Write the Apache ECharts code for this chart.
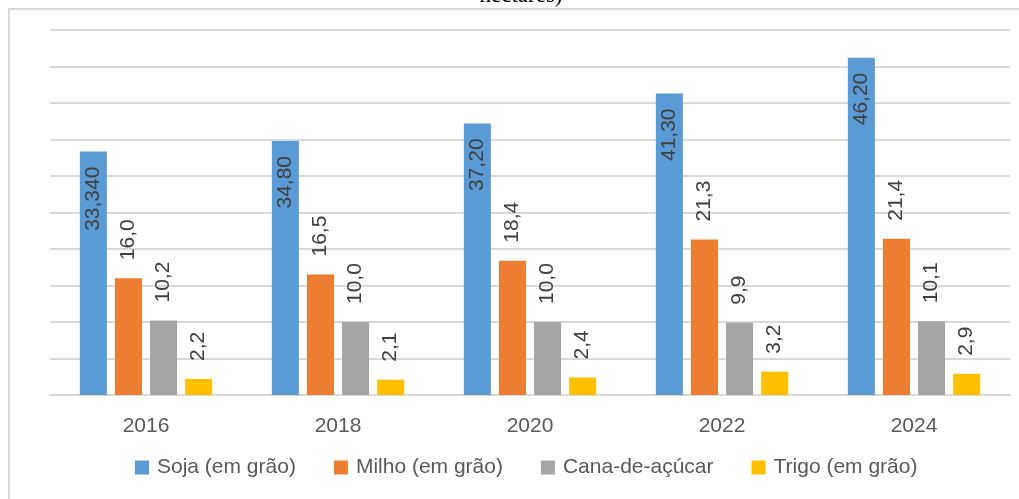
<!DOCTYPE html>
<html>
<head>
<meta charset="utf-8">
<script src="https://cdn.jsdelivr.net/npm/echarts@6/dist/echarts.min.js"></script>
<style>
  html, body { margin: 0; padding: 0; background: #fff; }
  #chart { width: 1019px; height: 499px; }
</style>
</head>
<body>
<div id="chart"></div>
<script>
const years = ['2016', '2018', '2020', '2022', '2024'];
const soja = [33.34, 34.80, 37.20, 41.30, 46.20];
const milho = [16.0, 16.5, 18.4, 21.3, 21.4];
const cana = [10.2, 10.0, 10.0, 9.9, 10.1];
const trigo = [2.2, 2.1, 2.4, 3.2, 2.9];
// labels as printed on the chart
const sojaLabels = ['33,340', '34,80', '37,20', '41,30', '46,20'];
const milhoLabels = ['16,0', '16,5', '18,4', '21,3', '21,4'];
const canaLabels = ['10,2', '10,0', '10,0', '9,9', '10,1'];
const trigoLabels = ['2,2', '2,1', '2,4', '3,2', '2,9'];

const font = 'Liberation Sans, Arial, sans-serif';
const chart = echarts.init(document.getElementById('chart'));

function labelAbove(texts) {
  return {
    show: true,
    position: 'top',
    distance: 18,
    rotate: 90,
    align: 'left',
    verticalAlign: 'middle',
    fontFamily: font,
    fontSize: 21,
    color: '#404040',
    formatter: p => texts[p.dataIndex]
  };
}

const option = {
  animation: false,
  graphic: [
    {
      type: 'rect',
      shape: { x: 9, y: 9, width: 1030, height: 520 },
      style: { fill: 'none', stroke: '#d9d9d9', lineWidth: 2 }
    },
    {
      type: 'text',
      x: 521, y: -4,
      style: {
        text: 'hectares)',
        font: '23px "Liberation Serif", serif',
        fill: '#000',
        align: 'center',
        verticalAlign: 'middle'
      }
    }
  ],
  grid: { left: 50, right: 9, top: 30, bottom: 104 },
  legend: {
    bottom: 16,
    left: 130,
    itemWidth: 14,
    itemHeight: 14,
    itemGap: 38,
    icon: 'rect',
    textStyle: { fontFamily: font, fontSize: 21, color: '#595959', padding: [0, 0, 0, 3] },
    data: ['Soja (em grão)', 'Milho (em grão)', 'Cana-de-açúcar', 'Trigo (em grão)']
  },
  xAxis: {
    type: 'category',
    data: years,
    axisLine: { lineStyle: { color: '#d9d9d9', width: 2 } },
    axisTick: { show: false },
    axisLabel: { fontFamily: font, fontSize: 21, color: '#595959', margin: 21 }
  },
  yAxis: {
    type: 'value',
    min: 0,
    max: 50,
    interval: 5,
    axisLabel: { show: false },
    axisLine: { show: false },
    axisTick: { show: false },
    splitLine: { lineStyle: { color: '#d9d9d9', width: 2 } }
  },
  series: [
    {
      name: 'Soja (em grão)', type: 'bar', data: soja,
      barWidth: 27, barGap: '30%',
      itemStyle: { color: '#5b9bd5' },
      label: {
        show: true,
        position: 'insideTop',
        distance: 15,
        rotate: 90,
        align: 'right',
        verticalAlign: 'middle',
        fontFamily: font,
        fontSize: 21,
        color: '#404040',
        formatter: p => sojaLabels[p.dataIndex]
      }
    },
    {
      name: 'Milho (em grão)', type: 'bar', data: milho, barWidth: 27, barGap: '30%',
      itemStyle: { color: '#ed7d31' },
      label: labelAbove(milhoLabels)
    },
    {
      name: 'Cana-de-açúcar', type: 'bar', data: cana, barWidth: 27, barGap: '30%',
      itemStyle: { color: '#a5a5a5' },
      label: labelAbove(canaLabels)
    },
    {
      name: 'Trigo (em grão)', type: 'bar', data: trigo, barWidth: 27, barGap: '30%',
      itemStyle: { color: '#ffc000' },
      label: labelAbove(trigoLabels)
    }
  ]
};
chart.setOption(option);
</script>
</body>
</html>
